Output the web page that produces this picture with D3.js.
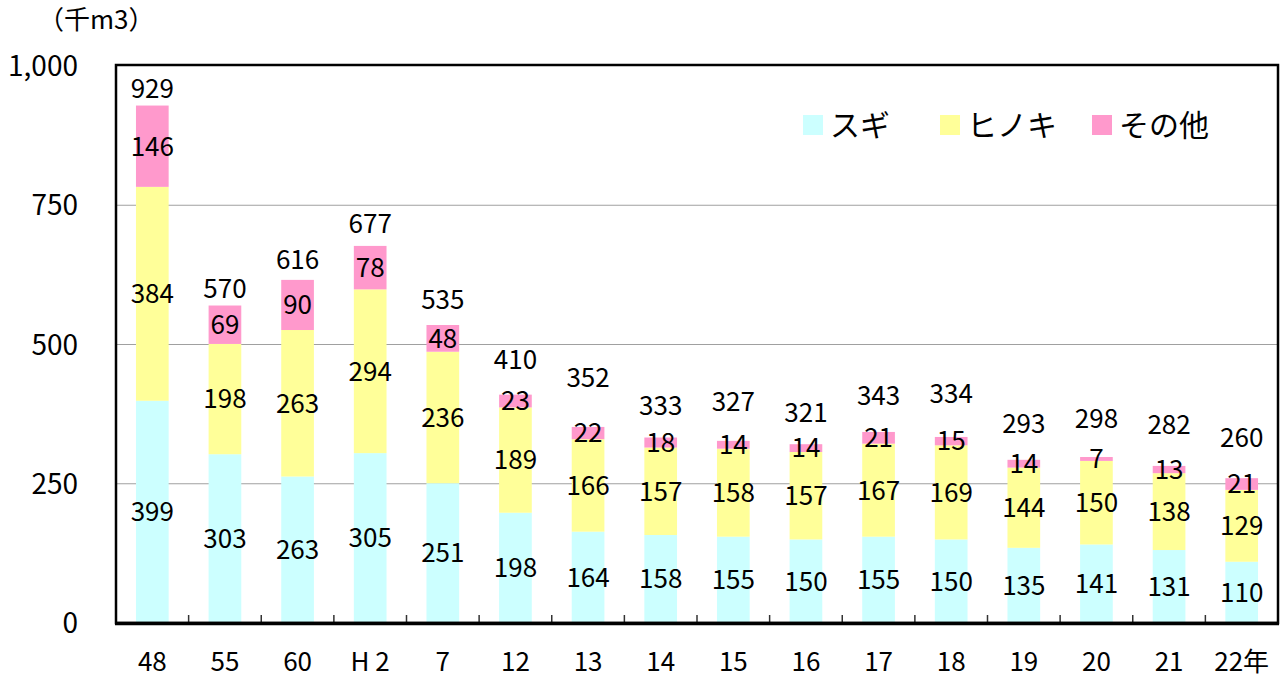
<!DOCTYPE html>
<html lang="ja">
<head>
<meta charset="UTF-8">
<title>スギ・ヒノキ・その他</title>
<script src="https://d3js.org/d3.v7.min.js"></script>
<style>
    body { margin: 0; background: #fff; }
    svg { display: block; font-family: "Noto Sans CJK JP", "Noto Sans", sans-serif; }
    .grid line { stroke: #a0a0a0; stroke-width: 1.2px; }
    .lbl { font-size: 26px; fill: #000; text-anchor: middle; }
</style>
</head>
<body>
<svg width="1284" height="677"></svg>
<script>
// years (昭和48年〜平成22年)
const years = ["48", "55", "60", "H 2", "7", "12", "13", "14", "15", "16", "17", "18", "19", "20", "21", "22年"];
const sugi   = [399, 303, 263, 305, 251, 198, 164, 158, 155, 150, 155, 150, 135, 141, 131, 110];
const hinoki = [384, 198, 263, 294, 236, 189, 166, 157, 158, 157, 167, 169, 144, 150, 138, 129];
const sonota = [146, 69, 90, 78, 48, 23, 22, 18, 14, 14, 21, 15, 14, 7, 13, 21];
const totals = [929, 570, 616, 677, 535, 410, 352, 333, 327, 321, 343, 334, 293, 298, 282, 260];
const yTicks = [0, 250, 500, 750, 1000];
const seriesNames = ["スギ", "ヒノキ", "その他"];

// how far each total label sits above its bar (px), as in the original
const totalLift = [17, 17, 20, 22, 25, 35, 49, 32, 39, 32, 36, 43, 36, 38, 41, 41];

const colors = ["#ccffff", "#ffff99", "#ff99cc"];

const svg = d3.select("svg");
const plot = { left: 116, right: 1278, top: 65, bottom: 623 };

const x = d3.scaleBand().domain(years).range([plot.left, plot.right])
    .paddingInner(0.55).paddingOuter(0.275);
const y = d3.scaleLinear().domain([0, 1000]).range([plot.bottom, plot.top + 1]);

// gridlines
svg.append("g").attr("class", "grid")
    .selectAll("line")
    .data(yTicks.filter(d => d > 0 && d < 1000))
    .enter().append("line")
    .attr("x1", plot.left).attr("x2", plot.right)
    .attr("y1", d => y(d)).attr("y2", d => y(d));

// stacked bars
const table = years.map((yr, i) => ({ year: yr, s0: sugi[i], s1: hinoki[i], s2: sonota[i] }));
const stack = d3.stack().keys(["s0", "s1", "s2"])(table);

const layer = svg.append("g").selectAll("g")
    .data(stack)
    .enter().append("g")
    .attr("fill", (d, i) => colors[i]);

layer.selectAll("rect")
    .data(d => d)
    .enter().append("rect")
    .attr("x", d => x(d.data.year))
    .attr("width", x.bandwidth())
    .attr("y", d => y(d[1]))
    .attr("height", d => y(d[0]) - y(d[1]));

// segment labels
layer.selectAll("text")
    .data(d => d.map(v => ({ v, key: d.key })))
    .enter().append("text")
    .attr("class", "lbl")
    .attr("fill", "#000")
    .attr("x", d => x(d.v.data.year) + x.bandwidth() / 2)
    .attr("y", d => y((d.v[0] + d.v[1]) / 2))
    .attr("dy", "0.36em")
    .text(d => d.v.data[d.key]);

// total labels
svg.append("g").selectAll("text")
    .data(totals)
    .enter().append("text")
    .attr("class", "lbl")
    .attr("x", (d, i) => x(years[i]) + x.bandwidth() / 2)
    .attr("y", (d, i) => y(d) - totalLift[i])
    .attr("dy", "0.36em")
    .text(d => d);

// x ticks between categories
svg.append("g").selectAll("line")
    .data(years.slice(1))
    .enter().append("line")
    .attr("x1", d => x(d) - x.step() * x.paddingInner() / 2)
    .attr("x2", d => x(d) - x.step() * x.paddingInner() / 2)
    .attr("y1", plot.bottom).attr("y2", plot.bottom - 8)
    .attr("stroke", "#333").attr("stroke-width", 1.5);

// frame
svg.append("rect")
    .attr("x", plot.left).attr("y", plot.top)
    .attr("width", plot.right - plot.left).attr("height", plot.bottom - plot.top)
    .attr("fill", "none").attr("stroke", "#000").attr("stroke-width", 2.5);
svg.append("line")
    .attr("x1", plot.left - 1).attr("x2", plot.right + 1)
    .attr("y1", plot.bottom + 0.5).attr("y2", plot.bottom + 0.5)
    .attr("stroke", "#000").attr("stroke-width", 3.5);

// y axis labels
svg.append("g").selectAll("text")
    .data(yTicks)
    .enter().append("text")
    .attr("x", 78)
    .attr("y", d => y(d))
    .attr("dy", "0.36em")
    .attr("text-anchor", "end")
    .attr("font-size", 28)
    .text(d => d3.format(",")(d));

svg.append("text")
    .attr("x", 38).attr("y", 20).attr("dy", "0.36em")
    .attr("font-size", 26)
    .text("（千m3）");

// x axis labels
svg.append("g").selectAll("text")
    .data(years)
    .enter().append("text")
    .attr("class", "lbl")
    .attr("x", d => x(d) + x.bandwidth() / 2)
    .attr("y", 662)
    .attr("dy", "0.36em")
    .text(d => d);

// legend
const legendX = [803, 940, 1092];
const legend = svg.append("g").selectAll("g")
    .data(seriesNames)
    .enter().append("g")
    .attr("transform", (d, i) => `translate(${legendX[i]},115)`);
legend.append("rect")
    .attr("width", 20).attr("height", 20)
    .attr("fill", (d, i) => colors[i]);
legend.append("text")
    .attr("x", 27).attr("y", 10).attr("dy", "0.36em")
    .attr("font-size", 30)
    .text(d => d);
</script>
</body>
</html>
